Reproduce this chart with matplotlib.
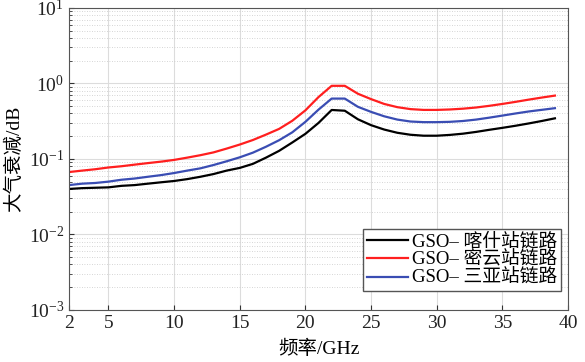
import numpy as np
import matplotlib
matplotlib.use('Agg')
import matplotlib.pyplot as plt
from matplotlib.ticker import LogLocator, NullFormatter

plt.rcParams['font.family'] = ['Liberation Serif', 'Noto Sans CJK SC']
plt.rcParams['mathtext.fontset'] = 'stix'

# 频率 (GHz)
freq = list(range(2, 40))

# 喀什站链路大气衰减 (dB)
kashi = [0.040, 0.041, 0.0415, 0.042, 0.044, 0.045, 0.047, 0.049, 0.051, 0.054,
         0.058, 0.063, 0.070, 0.076, 0.086, 0.104, 0.128, 0.165, 0.215, 0.30,
         0.445, 0.435, 0.335, 0.28, 0.245, 0.222, 0.209, 0.203, 0.203, 0.208,
         0.216, 0.228, 0.243, 0.258, 0.275, 0.295, 0.318, 0.345]

# 密云站链路
miyun = [0.067, 0.070, 0.073, 0.077, 0.080, 0.084, 0.088, 0.092, 0.097, 0.104,
         0.112, 0.122, 0.137, 0.155, 0.178, 0.210, 0.250, 0.32, 0.44, 0.66,
         0.93, 0.93, 0.73, 0.62, 0.535, 0.485, 0.457, 0.446, 0.446, 0.452,
         0.463, 0.48, 0.505, 0.535, 0.57, 0.61, 0.65, 0.69]

# 三亚站链路
sanya = [0.045, 0.047, 0.048, 0.050, 0.053, 0.055, 0.058, 0.061, 0.065, 0.070,
         0.075, 0.083, 0.093, 0.105, 0.121, 0.145, 0.177, 0.225, 0.31, 0.45,
         0.63, 0.63, 0.49, 0.42, 0.367, 0.332, 0.313, 0.307, 0.307, 0.31,
         0.318, 0.332, 0.352, 0.375, 0.40, 0.425, 0.447, 0.47]

labels = ['GSO– 喀什站链路', 'GSO– 密云站链路', 'GSO– 三亚站链路']
colors = ['#000000', '#ff1f1f', '#3a4db3']

fig = plt.figure(figsize=(5.85, 3.62), dpi=100)
ax = fig.add_axes([0.118, 0.144, 0.853, 0.834])

for ys, lab, c in zip([kashi, miyun, sanya], labels, colors):
    ax.plot(freq, ys, color=c, lw=1.6, label=lab)

ax.set_yscale('log')
ax.set_xlim(2, 40)
ax.set_ylim(1e-3, 1e1)
ax.set_xticks([2, 5, 10, 15, 20, 25, 30, 35, 40])
ax.yaxis.set_major_locator(LogLocator(base=10, numticks=10))
ax.yaxis.set_minor_locator(LogLocator(base=10, subs=np.arange(2, 10), numticks=10))
ax.yaxis.set_minor_formatter(NullFormatter())

ax.grid(True, which='major', color='#dcdcdc', lw=0.8, ls='-')
ax.grid(True, which='minor', axis='y', color='#c8c8c8', lw=0.6, ls=(0, (1, 2)))
ax.set_axisbelow(True)

ax.tick_params(axis='both', which='both', direction='in', labelsize=14, colors='#333333')
ax.tick_params(axis='both', labelcolor='#222222')
for s in ax.spines.values():
    s.set_color('#555555')

ax.set_xlabel('频率/GHz', fontsize=14, labelpad=6)
ax.set_ylabel('大气衰减/dB', fontsize=14, labelpad=4)

leg = ax.legend(loc='lower right', bbox_to_anchor=(0.986, 0.063), fontsize=13.5,
                handlelength=2.2, handletextpad=0.2, labelspacing=0.05, borderpad=0.2,
                borderaxespad=0, fancybox=False, framealpha=1)
leg.get_frame().set_edgecolor('#555555')
leg.get_frame().set_linewidth(1.0)

fig.savefig('out.png', dpi=100)
